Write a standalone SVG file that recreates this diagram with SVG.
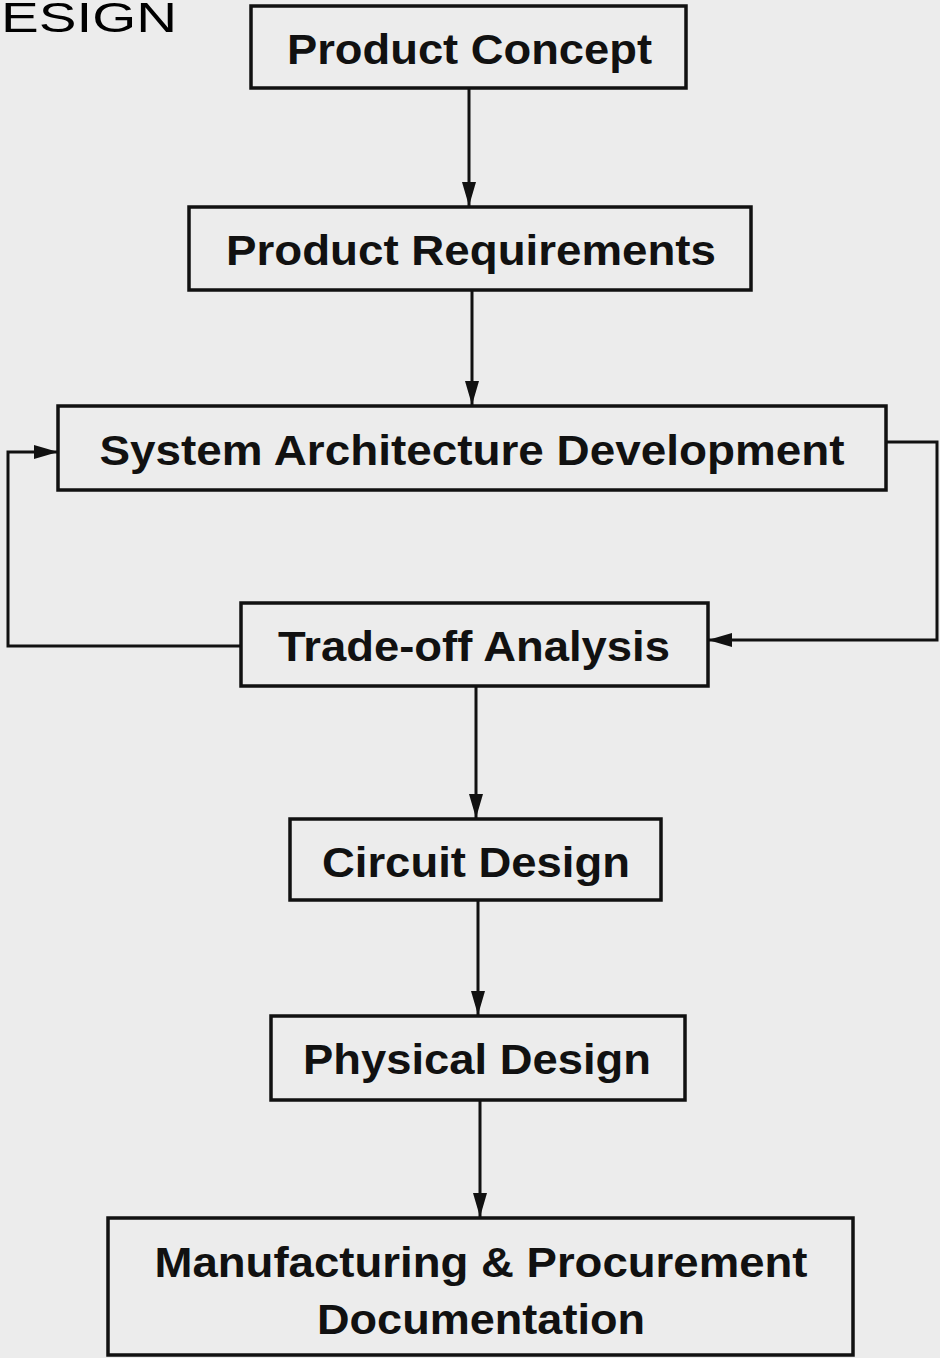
<svg xmlns="http://www.w3.org/2000/svg" width="940" height="1358" viewBox="0 0 940 1358">
  <style>
    .box { fill: none; stroke: #111; stroke-width: 3.5; }
    .lbl { font-family: "Liberation Sans", Arial, sans-serif; font-weight: bold; font-size: 43px; fill: #111; text-anchor: middle; }
    .wire { fill: none; stroke: #111; stroke-width: 3; }
    .title { font-family: "Liberation Sans", Arial, sans-serif; font-size: 43px; fill: #000; }
  </style>
  <defs>
    <marker id="arrow" markerUnits="userSpaceOnUse" markerWidth="26" markerHeight="16" refX="24" refY="8" orient="auto">
      <path d="M0,1 L24,8 L0,15 Z" fill="#111"/>
    </marker>
  </defs>

  <!-- page background -->
  <rect x="0" y="0" width="940" height="1358" fill="#ececec"/>

  <!-- slide title fragment -->
  <text class="title" x="1" y="32" textLength="176" lengthAdjust="spacingAndGlyphs">ESIGN</text>

  <!-- connectors -->
  <g id="connectors">
    <line class="wire" x1="469" y1="88" x2="469" y2="206" marker-end="url(#arrow)"/>
    <line class="wire" x1="472" y1="290" x2="472" y2="405" marker-end="url(#arrow)"/>
    <line class="wire" x1="476" y1="686" x2="476" y2="818" marker-end="url(#arrow)"/>
    <line class="wire" x1="478" y1="900" x2="478" y2="1015" marker-end="url(#arrow)"/>
    <line class="wire" x1="480" y1="1100" x2="480" y2="1217" marker-end="url(#arrow)"/>
    <!-- feedback loop: architecture -> trade-off (right side) -->
    <polyline class="wire" points="886,442 937,442 937,640 708,640" marker-end="url(#arrow)"/>
    <!-- feedback loop: trade-off -> architecture (left side) -->
    <polyline class="wire" points="241,646 8,646 8,452 58,452" marker-end="url(#arrow)"/>
  </g>

  <g id="product-concept">
    <rect class="box" x="251" y="6" width="435" height="82"/>
    <text class="lbl" x="469.5" y="64" textLength="365" lengthAdjust="spacingAndGlyphs">Product Concept</text>
  </g>

  <g id="product-requirements">
    <rect class="box" x="189" y="207" width="562" height="83"/>
    <text class="lbl" x="471" y="265" textLength="490" lengthAdjust="spacingAndGlyphs">Product Requirements</text>
  </g>

  <g id="system-architecture">
    <rect class="box" x="58" y="406" width="828" height="84"/>
    <text class="lbl" x="472" y="465" textLength="745" lengthAdjust="spacingAndGlyphs">System Architecture Development</text>
  </g>

  <g id="trade-off-analysis">
    <rect class="box" x="241" y="603" width="467" height="83"/>
    <text class="lbl" x="474" y="661" textLength="392" lengthAdjust="spacingAndGlyphs">Trade-off Analysis</text>
  </g>

  <g id="circuit-design">
    <rect class="box" x="290" y="819" width="371" height="81"/>
    <text class="lbl" x="476" y="877" textLength="308" lengthAdjust="spacingAndGlyphs">Circuit Design</text>
  </g>

  <g id="physical-design">
    <rect class="box" x="271" y="1016" width="414" height="84"/>
    <text class="lbl" x="477" y="1074" textLength="348" lengthAdjust="spacingAndGlyphs">Physical Design</text>
  </g>

  <g id="manufacturing-documentation">
    <rect class="box" x="108" y="1218" width="745" height="137"/>
    <text class="lbl" x="481" y="1277" textLength="653" lengthAdjust="spacingAndGlyphs">Manufacturing &amp; Procurement</text>
    <text class="lbl" x="481" y="1334" textLength="328" lengthAdjust="spacingAndGlyphs">Documentation</text>
  </g>
</svg>
